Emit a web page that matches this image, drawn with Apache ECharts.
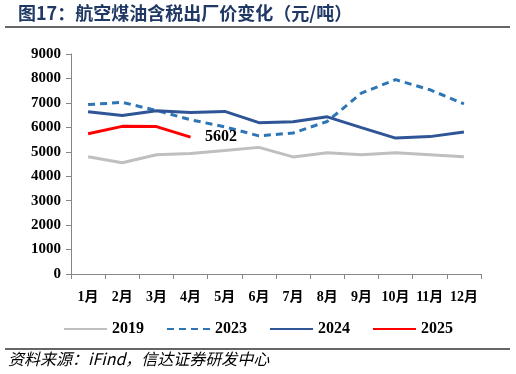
<!DOCTYPE html>
<html><head><meta charset="utf-8">
<script src="https://cdn.jsdelivr.net/npm/echarts@6/dist/echarts.min.js"></script>
<style>html,body{margin:0;padding:0;background:#fff}#c{width:516px;height:374px}</style>
</head><body><div id="c"></div>
<script>
const categories = ['1月','2月','3月','4月','5月','6月','7月','8月','9月','10月','11月','12月'];
const s2019 = [4800, 4550, 4880, 4930, 5050, 5180, 4790, 4960, 4880, 4960, 4880, 4800];
const s2023 = [6930, 7020, 6690, 6310, 6020, 5650, 5770, 6240, 7400, 7950, 7540, 6960];
const s2024 = [6640, 6480, 6680, 6610, 6650, 6190, 6230, 6430, 5990, 5560, 5620, 5810];
const s2025 = [5740, 6040, 6030, 5602];
const yTicks = [0, 1000, 2000, 3000, 4000, 5000, 6000, 7000, 8000, 9000];

const numFont = '"Liberation Serif", "Times New Roman", serif';
const cjk = '"Liberation Serif", "Noto Sans CJK SC", serif';
const lastIdx = s2025.length - 1;

const chart = echarts.init(document.getElementById('c'), null, { renderer: 'canvas' });
chart.setOption({
  animation: false,
  backgroundColor: '#fff',
  grid: { left: 71, right: 35, top: 54, bottom: 100, containLabel: false },
  xAxis: {
    type: 'category', data: categories, boundaryGap: true,
    axisLine: { lineStyle: { color: '#868686', width: 1 } },
    axisTick: { show: true, alignWithLabel: false, length: 5, lineStyle: { color: '#868686' } },
    axisLabel: { color: '#000', fontFamily: cjk, fontWeight: 'bold', fontSize: 14, margin: 16, interval: 0 }
  },
  yAxis: {
    type: 'value', min: yTicks[0], max: yTicks[yTicks.length - 1], interval: 1000,
    axisLine: { show: true, lineStyle: { color: '#868686', width: 1 } },
    axisTick: { show: true, length: 5, lineStyle: { color: '#868686' } },
    splitLine: { show: false },
    axisLabel: { color: '#000', fontFamily: numFont, fontWeight: 'bold', fontSize: 15, margin: 10,
      formatter: v => String(v) }
  },
  legend: {
    top: 316, left: 'center', itemWidth: 43, itemHeight: 14, itemGap: 22,
    itemStyle: { opacity: 0 },
    textStyle: { fontFamily: numFont, fontWeight: 'bold', fontSize: 16, color: '#000' },
    data: ['2019', '2023', '2024', '2025']
  },
  series: [
    { name: '2019', type: 'line', data: s2019, symbol: 'none', lineStyle: { color: '#BFBFBF', width: 3 }, itemStyle: { color: '#BFBFBF' } },
    { name: '2023', type: 'line', data: s2023, symbol: 'none', lineStyle: { color: '#2E75B6', width: 3, type: [7, 5] }, itemStyle: { color: '#2E75B6' } },
    { name: '2024', type: 'line', data: s2024, symbol: 'none', lineStyle: { color: '#2F5597', width: 3 }, itemStyle: { color: '#2F5597' } },
    { name: '2025', type: 'line', data: s2025, symbol: 'none', lineStyle: { color: '#FF0000', width: 3 }, itemStyle: { color: '#FF0000' },
      markPoint: {
        symbol: 'circle', symbolSize: 1, itemStyle: { color: 'rgba(0,0,0,0)' },
        data: [{ coord: [lastIdx, s2025[lastIdx]], value: s2025[lastIdx] }],
        label: { show: true, position: 'right', distance: 14, formatter: p => String(p.value),
          fontFamily: numFont, fontWeight: 'bold', fontSize: 16, color: '#000' }
      }
    }
  ],
  graphic: [
    { type: 'text', left: 18, top: 4, style: { text: '图17：航空煤油含税出厂价变化（元/吨）', fill: '#1F3864',
      font: 'bold 18px "Noto Sans CJK SC", sans-serif' } },
    { type: 'line', shape: { x1: 5, y1: 27, x2: 510, y2: 27 }, style: { stroke: '#666', lineWidth: 2 } },
    { type: 'line', shape: { x1: 5, y1: 349, x2: 510, y2: 349 }, style: { stroke: '#666', lineWidth: 2 } },
    { type: 'text', left: 8, top: 351, style: { text: '资料来源：iFind，信达证券研发中心', fill: '#000',
      font: 'italic 16px "Noto Sans CJK SC", sans-serif' } }
  ]
});
</script></body></html>
